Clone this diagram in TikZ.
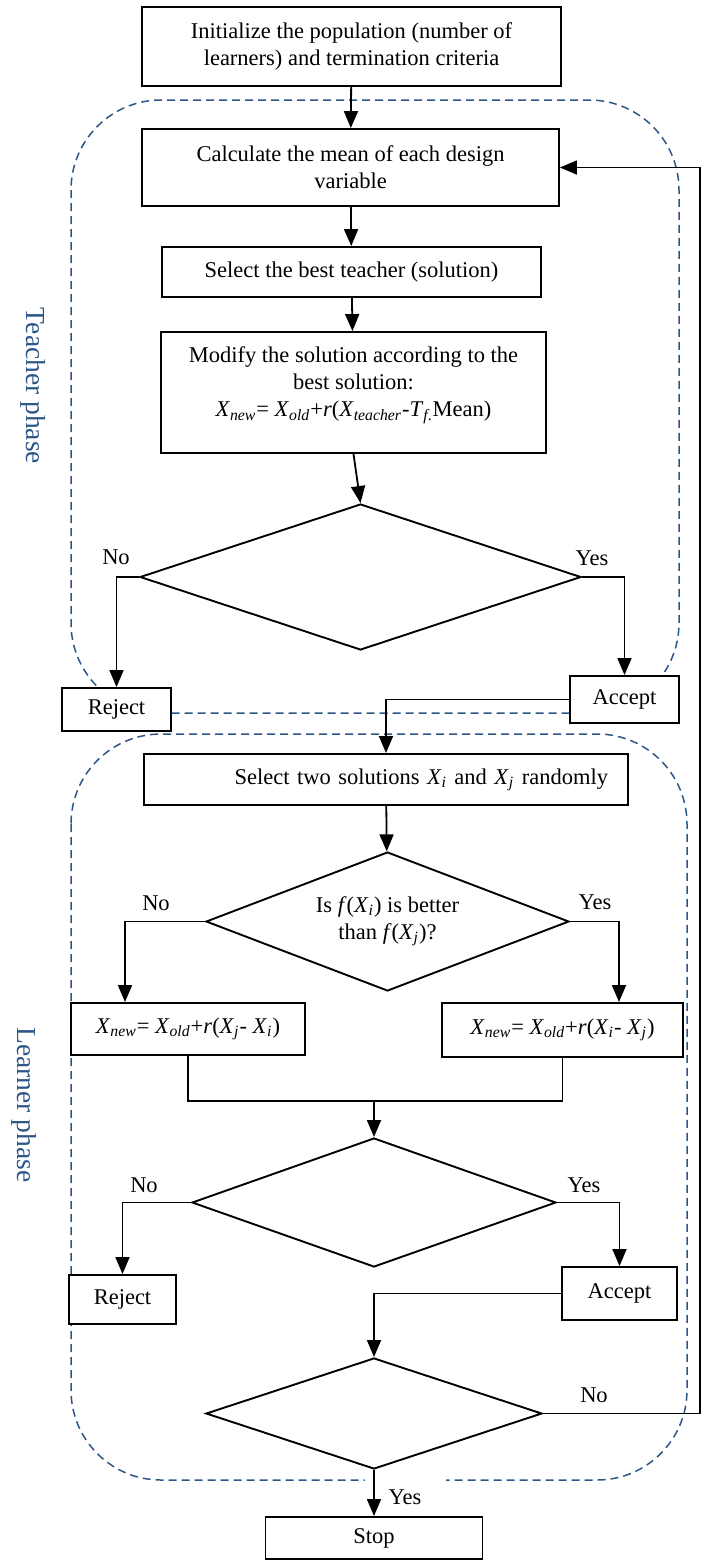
\documentclass[tikz,border=0pt]{standalone}
\usepackage{fontspec}
\setmainfont{Liberation Serif}
\usetikzlibrary{shapes.geometric}
\usetikzlibrary{arrows.meta}
\definecolor{phaseblue}{RGB}{44,86,135}
\newcommand{\Xs}[2]{\textit{#1}\textsubscript{\textit{#2}}}

\begin{document}
\begin{tikzpicture}[x=5pt,y=-5pt,
    box/.style={draw,line width=0.95pt,fill=white,align=center,inner sep=0pt,
      font=\fontsize{11.25}{13.5}\selectfont},
    decision/.style={diamond,draw,line width=0.95pt,fill=white,aspect=2.6,inner sep=0pt,
      align=center,font=\fontsize{11.25}{13.5}\selectfont},
    arr/.style={-{Triangle[length=8.5pt,width=7pt]},line width=0.9pt},
    conn/.style={line width=0.9pt},
    phase/.style={draw=phaseblue,dash pattern=on 4pt off 2.5pt,line width=0.75pt,rounded corners=45pt},
    phasetext/.style={rotate=-90,text=phaseblue,font=\fontsize{13.75}{16}\selectfont},
    lbl/.style={font=\fontsize{11.25}{13.5}\selectfont,inner sep=0pt}]
  \useasboundingbox (0,0) rectangle (70.4,156);
  % dashed phase regions
  \draw[phase] (7.1,10) rectangle (67.9,71.3);
  \draw[phase] (7.1,73.4) rectangle (68.7,148);
  \node[phasetext] (tphase) at (3.3,38.6) {Teacher phase};
  \node[phasetext] (lphase) at (2.4,110.5) {Learner phase};
  \node[lbl,fill=white,minimum width=40.5pt,minimum height=19pt] (yes4) at (40.5,149.7) {Yes};
  % teacher phase
  \node[box,minimum width=209.5pt,minimum height=39.5pt] (init) at (35.15,4.65)
    {Initialize the population (number of\\ learners) and termination criteria};
  \node[box,minimum width=208.5pt,minimum height=38.5pt] (mean) at (35.05,16.75)
    {Calculate the mean of each design\\ variable};
  \node[box,minimum width=189.5pt,minimum height=25pt] (teacher) at (35.15,27.2)
    {Select the best teacher (solution)};
  \node[box,minimum width=192.5pt,minimum height=60.5pt] (modify) at (35.35,39.25)
    {Modify the solution according to the\\ best solution:\\
     \Xs{X}{new}= \Xs{X}{old}+\textit{r}(\Xs{X}{teacher}-\textit{T}\textsubscript{\textit{f}.}Mean)\\[-3pt]~};
  \node[decision,minimum width=220.5pt,minimum height=73pt] (dec1) at (36.05,57.7) {};
  \node[box,minimum width=54.5pt,minimum height=21.5pt] (reject1) at (11.65,70.95) {Reject};
  \node[box,minimum width=54.5pt,minimum height=23.5pt] (accept1) at (62.45,69.95) {Accept};
  % learner phase
  \node[box,minimum height=25.5pt,text width=222pt,align=right,inner xsep=10pt] (pick) at (38.6,77.95)
    {Select two solutions \Xs{X}{i} and \Xs{X}{j} randomly};
  \node[decision,minimum width=181.5pt,minimum height=69.5pt] (dec2) at (38.75,92.15)
    {Is \textit{f}(\Xs{X}{i}) is better\\ than \textit{f}(\Xs{X}{j})?};
  \node[box,minimum width=117pt,minimum height=26pt] (newleft) at (18.8,102.9)
    {\Xs{X}{new}= \Xs{X}{old}+\textit{r}(\Xs{X}{j}- \Xs{X}{i})};
  \node[box,minimum width=120.5pt,minimum height=27pt] (newright) at (56.25,103)
    {\Xs{X}{new}= \Xs{X}{old}+\textit{r}(\Xs{X}{i}- \Xs{X}{j})};
  \node[decision,minimum width=182pt,minimum height=64.5pt] (dec3) at (37.4,120.25) {};
  \node[box,minimum width=53.5pt,minimum height=24.5pt] (reject2) at (12.25,129.95) {Reject};
  \node[box,minimum width=57.5pt,minimum height=26.5pt] (accept2) at (61.95,129.35) {Accept};
  \node[decision,minimum width=168pt,minimum height=55.5pt] (dec4) at (37.4,141.35) {};
  \node[box,minimum width=108.5pt,minimum height=21pt] (stop) at (37.4,153.8) {Stop};
  % connectors
  \draw[arr] (init) -- (mean);
  \draw[arr] (mean) -- (teacher);
  \draw[arr] (teacher) -- (modify);
  \draw[arr] (modify.south) -- (dec1.north);
  \draw[arr] (dec1.west) -| (reject1.north);
  \draw[arr] (dec1.east) -| (accept1.north);
  \draw[arr] (accept1.west) -| (pick.north);
  \draw[arr] (pick) -- (dec2);
  \draw[arr] (dec2.west) -| ([xshift=-31.5pt]newleft.north);
  \draw[arr] (dec2.east) -| ([xshift=28.25pt]newright.north);
  \coordinate (join) at (37.4,110.1);
  \draw[conn] (newleft.south) |- (join) -| (newright.south);
  \draw[arr] (join) -- (dec3.north);
  \draw[arr] (dec3.west) -| (reject2.north);
  \draw[arr] (dec3.east) -| (accept2.north);
  \draw[arr] (accept2.west) -| (dec4.north);
  \coordinate (back) at (70,16.75);
  \draw[arr] (dec4.east) -| (back) -- (mean.east);
  \draw[arr] (dec4.south) -- (stop.north);
  % branch labels
  \node[lbl] (no1) at (11.6,55.7) {No};
  \node[lbl] (yes1) at (59.2,55.8) {Yes};
  \node[lbl] (no2) at (15.6,90.3) {No};
  \node[lbl] (yes2) at (59.5,90.2) {Yes};
  \node[lbl] (no3) at (14.4,118.5) {No};
  \node[lbl] (yes3) at (58.4,118.5) {Yes};
  \node[lbl] (no4) at (59.4,139.5) {No};
\end{tikzpicture}
\end{document}
